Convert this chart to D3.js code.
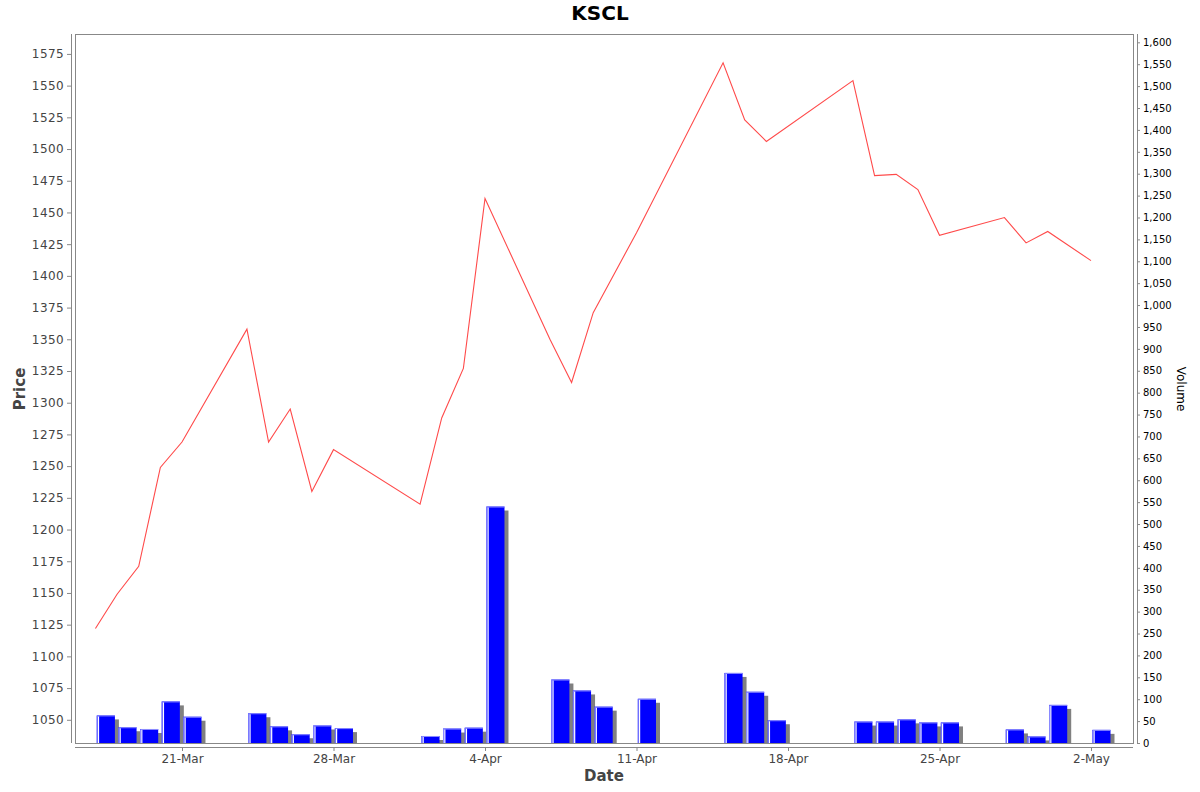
<!DOCTYPE html>
<html>
<head>
<meta charset="utf-8">
<script src="https://cdn.jsdelivr.net/npm/d3@7"></script>
<style>
  body { margin: 0; background: #fff; }
  text { font-family: "DejaVu Sans", sans-serif; }
</style>
</head>
<body>
<script>
// KSCL daily price and volume, 2025
var dates = ["2025-03-17","2025-03-18","2025-03-19","2025-03-20","2025-03-21",
             "2025-03-24","2025-03-25","2025-03-26","2025-03-27","2025-03-28",
             "2025-04-01","2025-04-02","2025-04-03","2025-04-04",
             "2025-04-07","2025-04-08","2025-04-09","2025-04-11",
             "2025-04-15","2025-04-16","2025-04-17",
             "2025-04-21","2025-04-22","2025-04-23","2025-04-24","2025-04-25",
             "2025-04-28","2025-04-29","2025-04-30","2025-05-02"];
var price = [1122, 1149, 1171, 1249, 1269,
             1358, 1269, 1295, 1230, 1263,
             1220, 1288, 1327, 1461,
             1350, 1316, 1371, 1434,
             1568, 1523, 1506,
             1554, 1479, 1480, 1468, 1432,
             1446, 1426, 1435, 1412];
var volume = [63, 36, 32, 95, 60,
              68, 38, 20, 40, 34,
              16, 33, 35, 540,
              145, 120, 83, 101,
              160, 117, 52,
              49, 49, 54, 47, 47,
              31, 15, 87, 30];
var priceTicks = d3.range(1050, 1576, 25);
var volumeTicks = d3.range(0, 1601, 50);
var dateTicks = ["2025-03-21","2025-03-28","2025-04-04","2025-04-11","2025-04-18","2025-04-25","2025-05-02"];

(function() {
    var W = 1200, H = 792;
    var pLeft = 75, pRight = 1133, pTop = 34, pBottom = 743;
    var day = 864e5;

    var svg = d3.select("body").append("svg")
        .attr("width", W)
        .attr("height", H);

    var parse = d3.utcParse("%Y-%m-%d");
    var t = dates.map(parse);

    var x = d3.scaleUtc()
        .domain([new Date(Date.UTC(2025, 2, 21) - 4.944 * day), new Date(Date.UTC(2025, 4, 2) + 1.94 * day)])
        .range([pLeft, pRight]);
    var yP = d3.scaleLinear().domain([1031.7, 1590.7]).range([pBottom, pTop]);
    var yV = d3.scaleLinear().domain([0, 1619]).range([pBottom, pTop]);

    // plot border
    svg.append("rect")
        .attr("x", pLeft + 0.5).attr("y", pTop + 0.5)
        .attr("width", pRight - pLeft).attr("height", pBottom - pTop)
        .attr("fill", "#fff").attr("stroke", "#888");

    // volume bars: shadow, bar, highlight
    var bars = svg.append("g");
    t.forEach(function(d, i) {
        var x0 = x(new Date(+d + 0.06 * day)),
            x1 = x(new Date(+d + 0.9 * day)),
            y0 = yV(volume[i]);
        bars.append("rect")
            .attr("x", x0 + 4).attr("y", y0 + 4)
            .attr("width", x1 - x0).attr("height", Math.max(0, pBottom - y0 - 4))
            .attr("fill", "#808080");
        bars.append("rect")
            .attr("x", x0).attr("y", y0)
            .attr("width", x1 - x0).attr("height", pBottom - y0)
            .attr("fill", "#0000ff");
        bars.append("path")
            .attr("d", "M" + (x0 + 0.5) + "," + pBottom + "V" + (y0 + 0.5) + "H" + x1)
            .attr("fill", "none").attr("stroke", "#8c8cff");
        bars.append("line")
            .attr("x1", x0 + 1.8).attr("x2", x0 + 1.8)
            .attr("y1", y0 + 1).attr("y2", pBottom)
            .attr("stroke", "#fff").attr("stroke-width", 1.2);
    });

    // price line
    var line = d3.line()
        .x(function(d, i) { return x(t[i]); })
        .y(function(d) { return yP(d); });
    svg.append("path")
        .datum(price)
        .attr("d", line)
        .attr("fill", "none")
        .attr("stroke", "#ff4a4a")
        .attr("stroke-width", 1.1);

    // left axis
    var gL = svg.append("g")
        .attr("transform", "translate(71,0)")
        .call(d3.axisLeft(yP).tickValues(priceTicks).tickFormat(d3.format("d")).tickSize(4).tickPadding(3));
    gL.select(".domain").attr("d", "M0.5," + pTop + "V" + pBottom).attr("stroke", "#888");
    gL.selectAll(".tick line").attr("stroke", "#888");
    gL.selectAll(".tick text").attr("fill", "#444").style("font-size", "12px").style("letter-spacing", "0.4px");

    // right axis
    var gR = svg.append("g")
        .attr("transform", "translate(1137,0)")
        .call(d3.axisRight(yV).tickValues(volumeTicks).tickFormat(d3.format(",")).tickSize(3).tickPadding(3));
    gR.select(".domain").attr("d", "M0.5," + pTop + "V" + pBottom).attr("stroke", "#888");
    gR.selectAll(".tick line").attr("stroke", "#888");
    gR.selectAll(".tick text").attr("fill", "#000").style("font-size", "10px");

    // bottom axis
    var gB = svg.append("g")
        .attr("transform", "translate(0,747)")
        .call(d3.axisBottom(x)
            .tickValues(dateTicks.map(parse))
            .tickFormat(d3.utcFormat("%-d-%b")).tickSize(4).tickPadding(3));
    gB.select(".domain").attr("d", "M" + pLeft + ",0.5H" + pRight).attr("stroke", "#888");
    gB.selectAll(".tick line").attr("stroke", "#888");
    gB.selectAll(".tick text").attr("fill", "#444").style("font-size", "12px");

    // labels
    svg.append("text")
        .attr("x", 600).attr("y", 20)
        .attr("text-anchor", "middle")
        .style("font-size", "20px").style("font-weight", "bold")
        .attr("fill", "#000")
        .text("KSCL");
    svg.append("text")
        .attr("x", 604).attr("y", 781)
        .attr("text-anchor", "middle")
        .style("font-size", "15px").style("font-weight", "bold")
        .attr("fill", "#444")
        .text("Date");
    svg.append("text")
        .attr("transform", "translate(25,389) rotate(-90)")
        .attr("text-anchor", "middle")
        .style("font-size", "15px").style("font-weight", "bold")
        .attr("fill", "#444")
        .text("Price");
    svg.append("text")
        .attr("transform", "translate(1177,389) rotate(90)")
        .attr("text-anchor", "middle")
        .style("font-size", "12px")
        .attr("fill", "#000")
        .text("Volume");
})();
</script>
</body>
</html>
